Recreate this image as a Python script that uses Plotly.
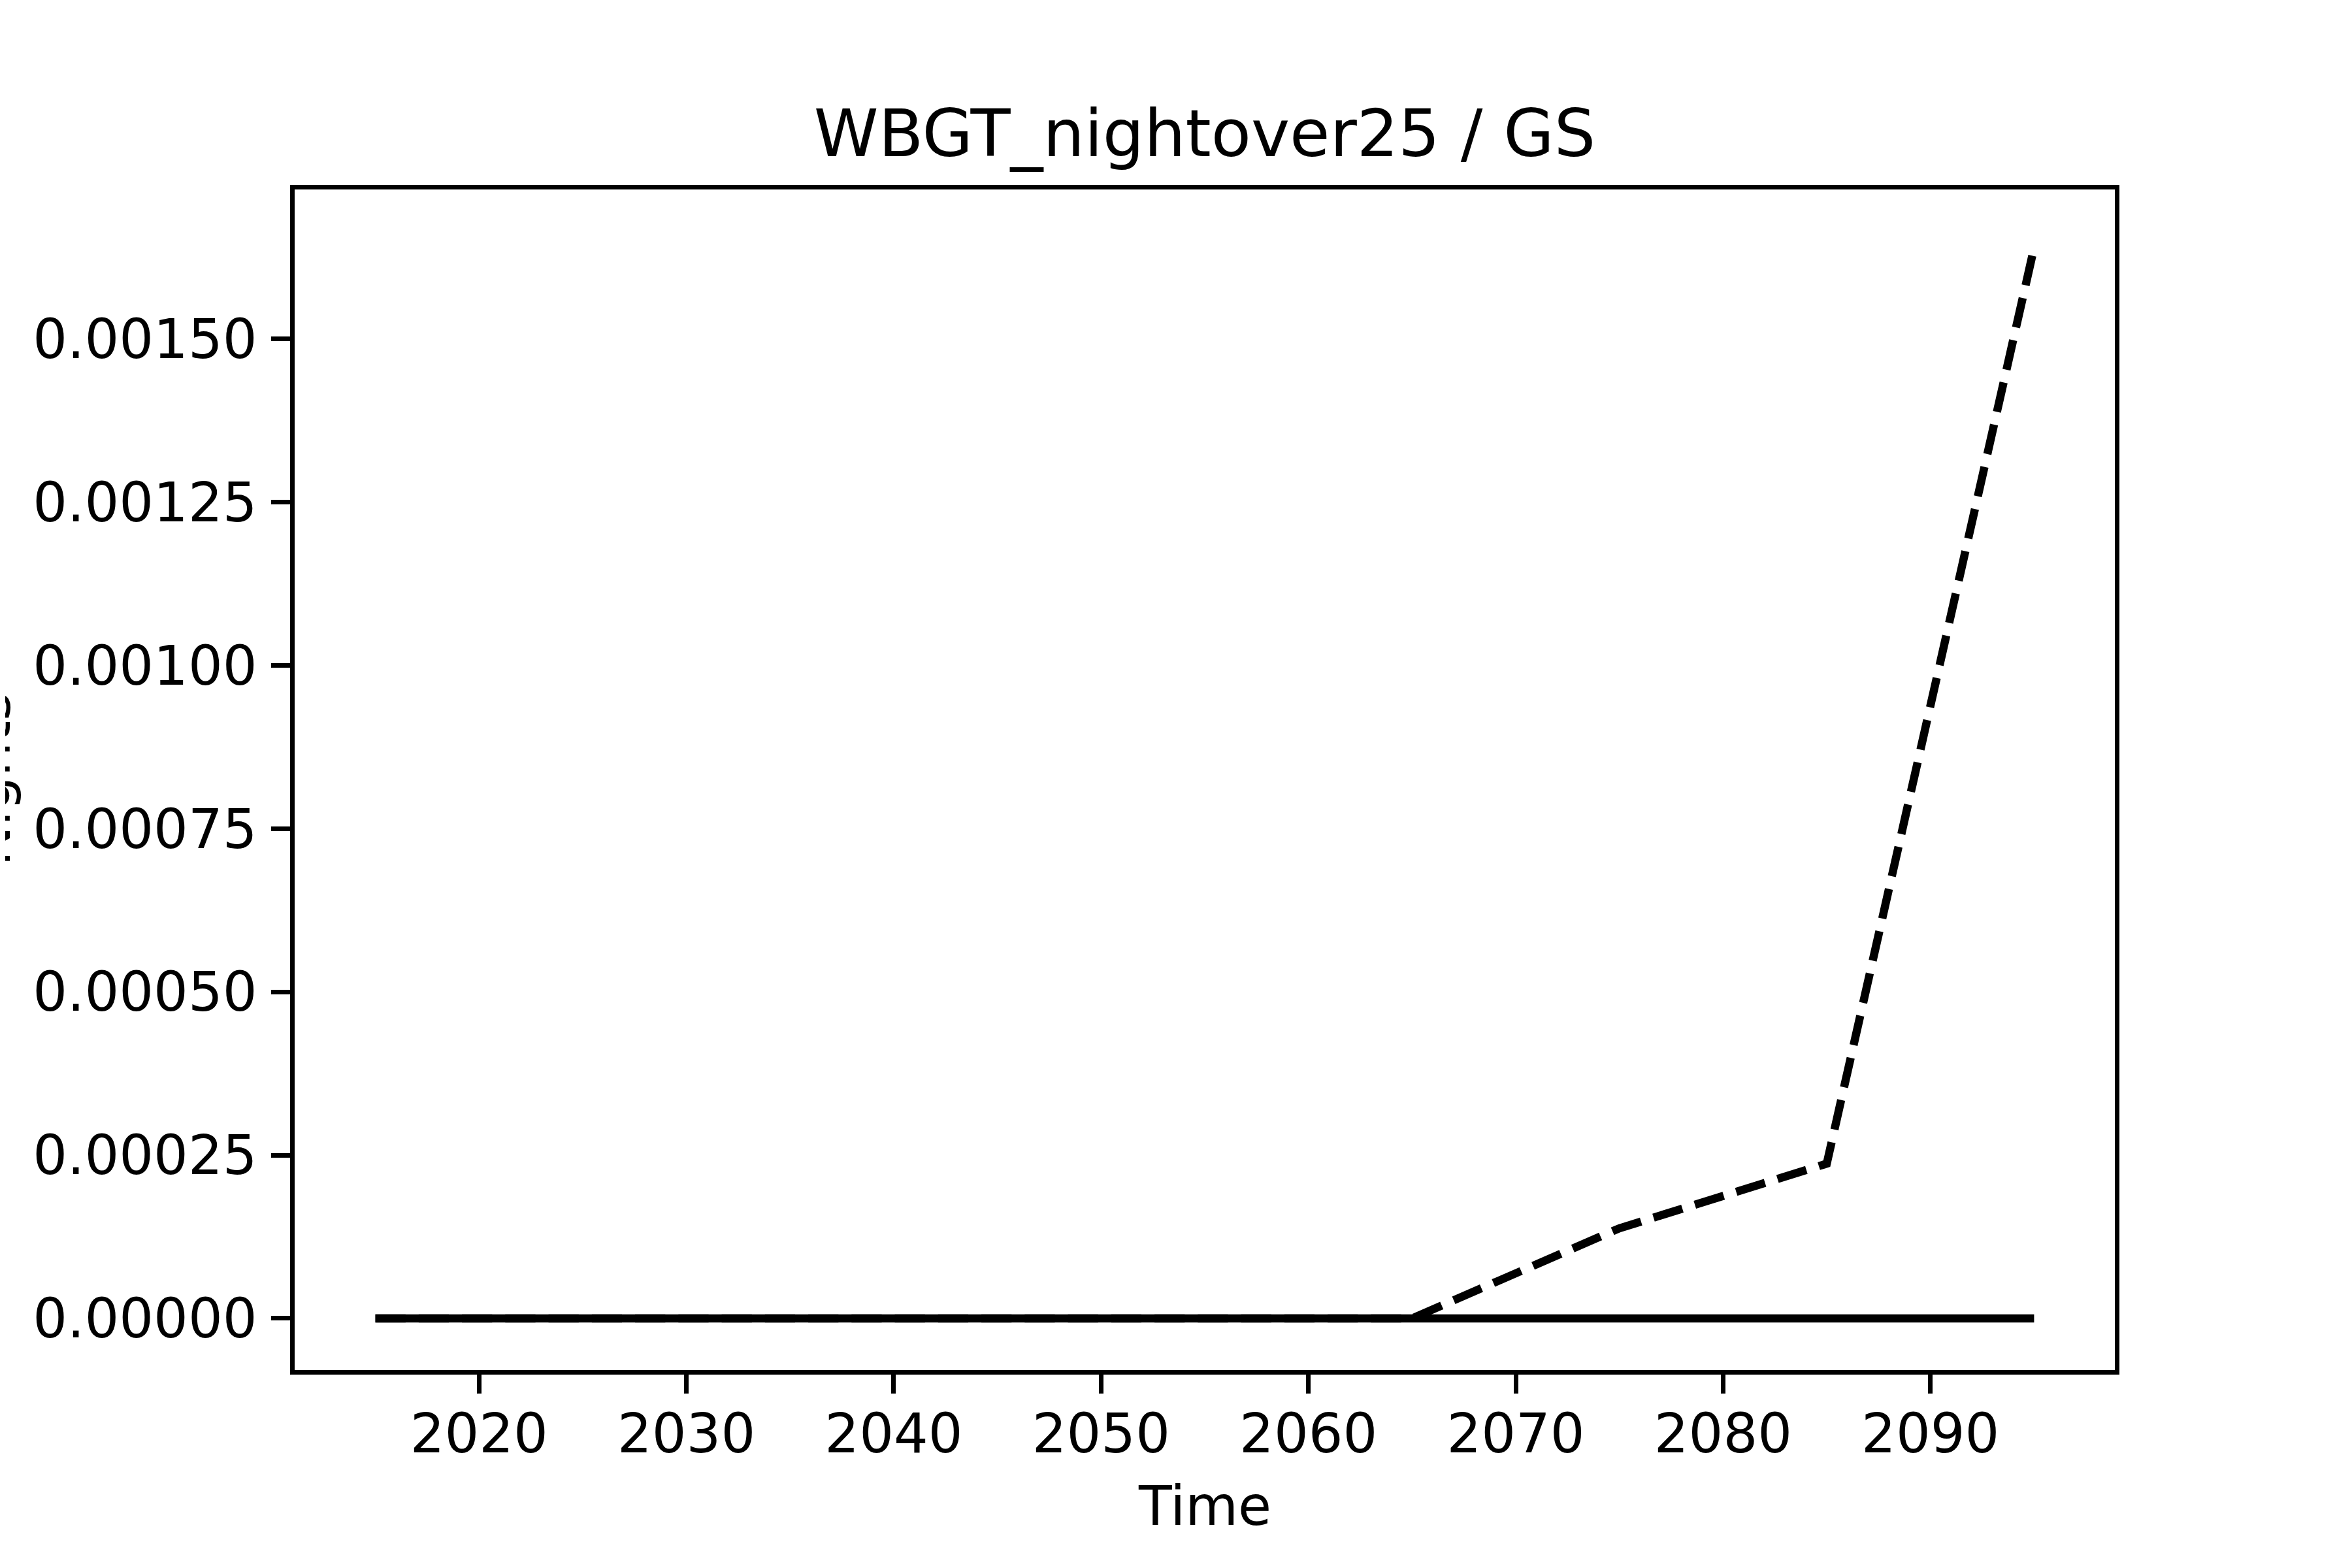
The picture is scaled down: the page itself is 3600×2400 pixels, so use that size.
import plotly.graph_objects as go

years = [2015, 2025, 2035, 2045, 2055, 2065, 2075, 2085, 2095]
solid_vals = [0, 0, 0, 0, 0, 0, 0, 0, 0]
dashed_vals = [0, 0, 0, 0, 0, 0, 0.000138, 0.000237, 0.00164]
x_ticks = [2020, 2030, 2040, 2050, 2060, 2070, 2080, 2090]
y_ticks = [0, 0.00025, 0.0005, 0.00075, 0.001, 0.00125, 0.0015]
x_range = [2011, 2099]
y_range = [-0.0000825, 0.0017325]

W, H = 3600, 2400
OFF = 8  # page body margin offset
LW = 6.7
# axes frame (line centres) in page pixels
FL, FR, FT, FB = 448, 3240, 287, 2100
L, R = FL + LW / 2 - OFF, FR - LW / 2 - OFF
T, B = FT + LW / 2 - OFF, FB - LW / 2 - OFF
FONT = "DejaVu Sans"

fig = go.Figure()
fig.add_trace(go.Scatter(x=years, y=solid_vals, mode="lines",
                         line=dict(color="black", width=12.5), showlegend=False))
fig.add_trace(go.Scatter(x=years, y=dashed_vals, mode="lines",
                         line=dict(color="black", width=12.5, dash="46.25px,20px"),
                         showlegend=False))

x0, x1 = x_range
xs = (x1 - x0) / (FR - FL)
y0, y1 = y_range
ys = (y1 - y0) / (FB - FT)

axis_common = dict(showline=True, mirror=True, linecolor="black", linewidth=LW,
                   ticks="outside", ticklen=29, tickwidth=LW, tickcolor="black",
                   showgrid=False, zeroline=False,
                   tickfont=dict(family=FONT, size=83, color="black"))

fig.update_xaxes(range=[x0 + LW / 2 * xs, x1 - LW / 2 * xs], tickvals=x_ticks,
                 ticktext=[str(v) for v in x_ticks], ticklabelstandoff=-9, **axis_common)
fig.update_yaxes(range=[y0 + LW / 2 * ys, y1 - LW / 2 * ys], tickvals=y_ticks,
                 ticktext=[f"{v:.5f}" for v in y_ticks], ticklabelstandoff=5, **axis_common)

pw, ph = R - L, B - T
fig.update_layout(
    width=W, height=H,
    margin=dict(l=L, r=W - R, t=T, b=H - B, pad=0),
    plot_bgcolor="white", paper_bgcolor="white",
    font=dict(family=FONT, color="black"),
    title=dict(text="WBGT_nightover25 / GS", font=dict(family=FONT, size=100, color="black"),
               x=0.5, xref="paper", xanchor="center",
               y=1 - 196 / H, yref="container", yanchor="middle"),
    annotations=[
        dict(text="Time", xref="paper", yref="paper", x=0.5, y=(B - 2297) / ph,
             xanchor="center", yanchor="middle", showarrow=False,
             font=dict(family=FONT, size=83, color="black")),
        dict(text="Nights", xref="paper", yref="paper", x=(-21 - L) / pw, y=0.5,
             xanchor="center", yanchor="middle", showarrow=False, textangle=-90,
             font=dict(family=FONT, size=83, color="black")),
    ],
)

fig.write_html("out.html")
